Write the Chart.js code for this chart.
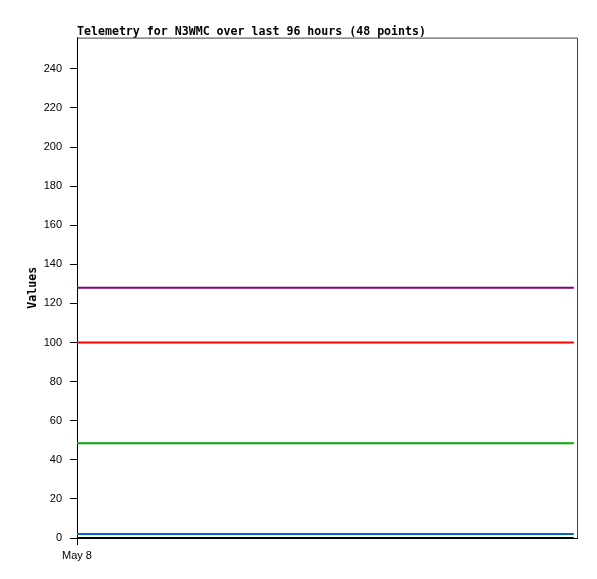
<!DOCTYPE html>
<html>
<head>
<meta charset="utf-8">
<script src="https://cdn.jsdelivr.net/npm/chart.js@4/dist/chart.umd.min.js"></script>
<style>
html,body{margin:0;padding:0;background:#fff;}
#wrap{width:597px;height:579px;}
</style>
</head>
<body>
<div id="wrap"><canvas id="c" width="597" height="579"></canvas></div>
<script>
const pointCount = 48;
const xTickLabels = ["May 8"];
const seriesPurple = Array(48).fill(128);
const seriesRed = Array(48).fill(100);
const seriesGreen = Array(48).fill(48.5);
const seriesBlue = Array(48).fill(2);
const seriesBlack = Array(48).fill(0);
const yTicks = [0,20,40,60,80,100,120,140,160,180,200,220,240];

function toPts(arr){ return arr.map((v,i)=>({x:i,y:v})); }
function ds(arr,color){
  return {data:toPts(arr),borderColor:color,borderWidth:2,pointRadius:0,fill:false,tension:0};
}

const frame = {
  id:'frame',
  afterDraw(chart){
    const {ctx, chartArea:a} = chart;
    ctx.save();
    ctx.strokeStyle='#404040';
    ctx.lineWidth=1;
    ctx.beginPath();
    ctx.moveTo(a.left, a.top+0.5);
    ctx.lineTo(a.right+0.5, a.top+0.5);
    ctx.lineTo(a.right+0.5, a.bottom);
    ctx.stroke();
    ctx.restore();
  }
};

new Chart(document.getElementById('c'), {
  type:'line',
  data:{datasets:[
    ds(seriesPurple,'#800080'),
    ds(seriesRed,'#ff0000'),
    ds(seriesGreen,'#00aa00'),
    ds(seriesBlue,'#0066cc'),
    ds(seriesBlack,'#000000')
  ]},
  options:{
    responsive:false,
    animation:false,
    layout:{padding:{left:0,right:20,top:0,bottom:0}},
    plugins:{
      legend:{display:false},
      tooltip:{enabled:false},
      title:{display:true,text:'Telemetry for N3WMC over last 96 hours (48 points)',
        align:'start',fullSize:false,color:'#000',
        font:{family:'DejaVu Sans Mono',weight:'bold',size:11.6,lineHeight:1.0},
        padding:{top:26,bottom:0}}
    },
    scales:{
      x:{type:'linear',min:0,max:pointCount-0.7,
        afterFit(s){ s.height=41; },
        afterBuildTicks(s){ s.ticks=[{value:0}]; },
        grid:{display:true,drawOnChartArea:false,drawTicks:true,tickLength:7,color:'#000'},
        border:{display:true,color:'#000',width:1},
        ticks:{color:'#000',padding:4,maxRotation:0,autoSkip:false,
          font:{family:'Liberation Sans',size:11},
          callback:(v,i)=>xTickLabels[i]}
      },
      y:{min:0,max:256,
        afterFit(s){ s.width=77; },
        afterBuildTicks(s){ s.ticks=yTicks.map(v=>({value:v})); },
        grid:{display:true,drawOnChartArea:false,drawTicks:true,tickLength:7,color:'#000'},
        border:{display:true,color:'#000',width:1},
        ticks:{color:'#000',padding:8,font:{family:'Liberation Sans',size:11}},
        title:{display:true,text:'Values',color:'#000',
          font:{family:'DejaVu Sans Mono',weight:'bold',size:11.6,lineHeight:1.2},
          padding:{top:26,bottom:0}}
      }
    }
  },
  plugins:[frame]
});
</script>
</body>
</html>
